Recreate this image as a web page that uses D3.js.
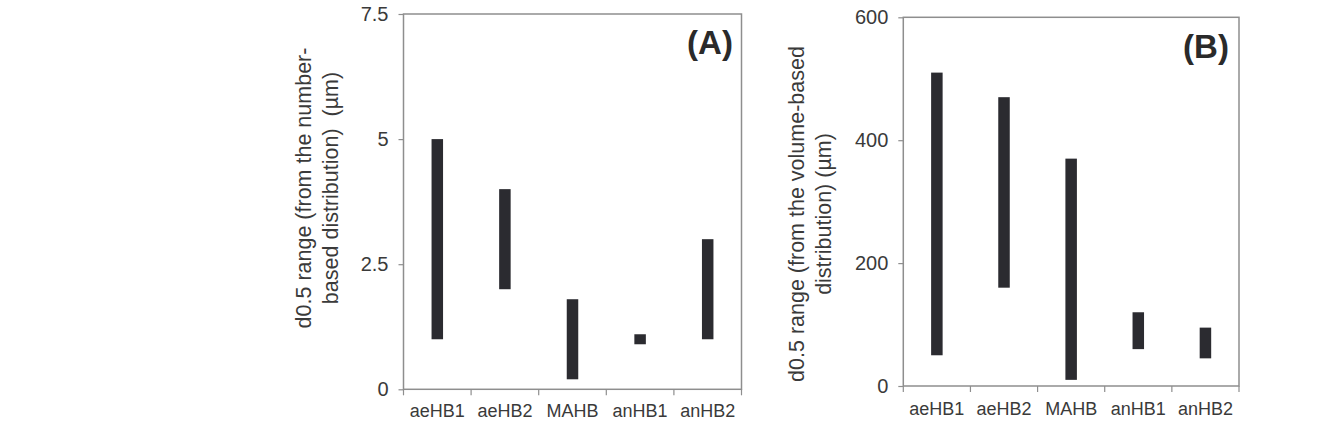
<!DOCTYPE html>
<html>
<head>
<meta charset="utf-8">
<script src="https://cdn.jsdelivr.net/npm/d3@7"></script>
<style>
  body { margin: 0; background: #fff; }
  svg { display: block; font-family: "Liberation Sans", Arial, sans-serif; }
</style>
</head>
<body>
<div id="chart"></div>
<script>
// --------------- Data ---------------
const categories = ["aeHB1", "aeHB2", "MAHB", "anHB1", "anHB2"];

// panel A: d0.5 range from the number-based distribution (µm)
const numberLow = [1, 2, 0.2, 0.9, 1];
const numberHigh = [5, 4, 1.8, 1.1, 3];
const numberTicks = [0, 2.5, 5, 7.5];

// panel B: d0.5 range from the volume-based distribution (µm)
const volumeLow = [50, 160, 10, 60, 45];
const volumeHigh = [510, 470, 370, 120, 95];
const volumeTicks = [0, 200, 400, 600];

// --------------- Constants ---------------
const WIDTH = 1343;
const HEIGHT = 422;
const AXIS_COLOR = "#8e8e8e";
const TEXT_COLOR = "#3a3a3a";
const BAR_COLOR = "#2b2b30";
const BAR_WIDTH = 11.5;

const svg = d3
  .select("#chart")
  .append("svg")
  .attr("width", WIDTH)
  .attr("height", HEIGHT);

function renderPanel({ box, low, high, ticks, letter, letterPos, titleLines, titleX, titleY, labelY }) {
  const g = svg.append("g");

  const x = d3
    .scaleBand()
    .domain(categories)
    .range([box.left, box.right])
    .paddingInner(0)
    .paddingOuter(0);

  const y = d3
    .scaleLinear()
    .domain([0, d3.max(ticks)])
    .range([box.bottom, box.top]);

  // plot frame
  g.append("rect")
    .attr("x", box.left)
    .attr("y", box.top)
    .attr("width", box.right - box.left)
    .attr("height", box.bottom - box.top)
    .attr("fill", "none")
    .attr("stroke", AXIS_COLOR)
    .attr("stroke-width", 1.5);

  // y axis
  const yAxis = g
    .append("g")
    .attr("transform", `translate(${box.left},0)`)
    .call(
      d3.axisLeft(y)
        .tickValues(ticks)
        .tickSize(5)
        .tickPadding(10)
        .tickFormat(d3.format("~g"))
    );
  yAxis.select(".domain").remove();
  yAxis.selectAll("line").attr("stroke", AXIS_COLOR).attr("stroke-width", 1.2);
  yAxis
    .selectAll("text")
    .attr("fill", TEXT_COLOR)
    .style("font-size", "20px");

  // category boundary ticks
  const bounds = categories.map((c) => x(c)).concat([box.right]);
  g.append("g")
    .selectAll("line")
    .data(bounds)
    .enter()
    .append("line")
    .attr("x1", (d) => d)
    .attr("x2", (d) => d)
    .attr("y1", box.bottom)
    .attr("y2", box.bottom + 6)
    .attr("stroke", AXIS_COLOR)
    .attr("stroke-width", 1.2);

  // category labels
  g.append("g")
    .selectAll("text")
    .data(categories)
    .enter()
    .append("text")
    .attr("x", (d) => x(d) + x.bandwidth() / 2)
    .attr("y", labelY)
    .attr("text-anchor", "middle")
    .attr("fill", TEXT_COLOR)
    .style("font-size", "18px")
    .text((d) => d);

  // range bars
  g.append("g")
    .selectAll("rect")
    .data(categories)
    .enter()
    .append("rect")
    .attr("x", (d) => x(d) + x.bandwidth() / 2 - BAR_WIDTH / 2)
    .attr("width", BAR_WIDTH)
    .attr("y", (d, i) => y(high[i]))
    .attr("height", (d, i) => y(low[i]) - y(high[i]))
    .attr("fill", BAR_COLOR);

  // panel letter
  g.append("text")
    .attr("x", letterPos[0])
    .attr("y", letterPos[1])
    .attr("text-anchor", "middle")
    .attr("fill", "#2a2a2a")
    .style("font-size", "33px")
    .style("font-weight", "bold")
    .text(letter);

  // y title, two lines
  titleLines.forEach((line, i) => {
    g.append("text")
      .attr("transform", `translate(${titleX[i]},${titleY}) rotate(-90)`)
      .attr("text-anchor", "middle")
      .attr("dy", "0.35em")
      .attr("fill", TEXT_COLOR)
      .style("font-size", "21.5px")
      .style("white-space", "pre")
      .text(line);
  });
}

renderPanel({
  box: { left: 403.5, right: 741.5, top: 14, bottom: 389.3 },
  low: numberLow,
  high: numberHigh,
  ticks: numberTicks,
  letter: "(A)",
  letterPos: [710, 54],
  titleLines: ["d0.5 range (from the number-", "based distribution)  (\u00b5m)"],
  titleX: [303, 330],
  titleY: 188,
  labelY: 417,
});

renderPanel({
  box: { left: 903.3, right: 1239, top: 17.3, bottom: 386 },
  low: volumeLow,
  high: volumeHigh,
  ticks: volumeTicks,
  letter: "(B)",
  letterPos: [1206, 58],
  titleLines: ["d0.5 range (from the volume-based", "distribution) (\u00b5m)"],
  titleX: [796, 823],
  titleY: 214,
  labelY: 415,
});
</script>
</body>
</html>
